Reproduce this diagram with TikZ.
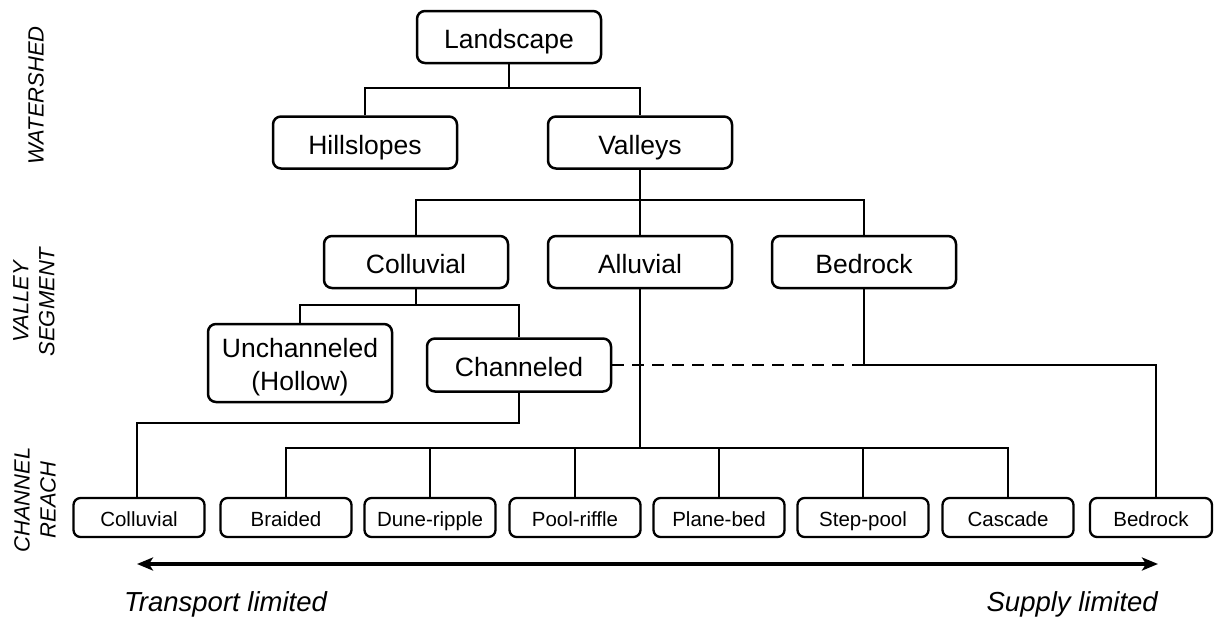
\documentclass[tikz,border=0pt]{standalone}
\usepackage{fontspec}
\setmainfont{Liberation Sans}
\usetikzlibrary{arrows.meta}
\begin{document}
\begin{tikzpicture}[x=1pt,y=-1pt,
  big/.style={draw, rounded corners=8pt, line width=2.5pt, minimum width=184pt, minimum height=52pt,
    font=\fontsize{26.5}{33}\selectfont, align=center, inner sep=0pt},
  one/.style={text height=23pt, text depth=0pt},
  small/.style={draw, rounded corners=7pt, line width=2.3pt, minimum width=131pt, minimum height=39pt,
    font=\fontsize{20.5}{22}\selectfont, inner sep=0pt, text height=17pt, text depth=0pt},
  conn/.style={line width=2.5pt},
  side/.style={rotate=90, font=\fontsize{22}{26}\selectfont\itshape, align=center, inner sep=0pt},
  foot/.style={font=\fontsize{27.5}{30}\selectfont\itshape, inner sep=0pt},
]
\useasboundingbox (0,0) rectangle (1216,621);

% top level
\node[big, one] (land) at (509,37) {Landscape};
\node[big, one] (hill) at (365,142.5) {Hillslopes};
\node[big, one] (vall) at (640,142.5) {Valleys};
% valley segment
\node[big, one] (vcol) at (416,262) {Colluvial};
\node[big, one] (vall2) at (640,262) {Alluvial};
\node[big, one] (vbed) at (864,262) {Bedrock};
\node[big, minimum height=78pt] (unch) at (300,363)
  {\raisebox{-4pt}[\height][\depth]{\begin{tabular}{@{}c@{}}Unchanneled\\(Hollow)\end{tabular}}};
\node[big, one, minimum height=53pt] (chan) at (519,365) {Channeled};
% channel reach
\node[small] (rcol) at (139,517.5) {Colluvial};
\node[small] (brai) at (286,517.5) {Braided};
\node[small] (dune) at (430,517.5) {Dune-ripple};
\node[small] (pool) at (575,517.5) {Pool-riffle};
\node[small] (plan) at (719,517.5) {Plane-bed};
\node[small] (step) at (863,517.5) {Step-pool};
\node[small] (casc) at (1008,517.5) {Cascade};
\node[small, minimum width=122pt] (rbed) at (1151,517.5) {Bedrock};

% connectors
\draw[conn] (land.south) -- (509,88) coordinate (j1);
\draw[conn] (hill.north) |- (j1) -| (vall.north);
\draw[conn] (vall.south) -- (640,200) coordinate (j2);
\draw[conn] (vcol.north) |- (j2) -| (vbed.north);
\draw[conn] (vall2.north) -- (j2);
\draw[conn] (vcol.south) -- (416,305) coordinate (j3);
\draw[conn] (unch.north) |- (j3) -| (chan.north);
\draw[conn] (chan.south) |- (137,423) coordinate (j4) -- (j4 |- rcol.north);
\draw[conn] (vall2.south) -- (640,448) coordinate (j5);
\draw[conn] (brai.north) |- (j5) -| (casc.north);
\draw[conn] (dune.north) -- (dune.north |- j5);
\draw[conn] (pool.north) -- (pool.north |- j5);
\draw[conn] (plan.north) -- (plan.north |- j5);
\draw[conn] (step.north) -- (step.north |- j5);
\draw[conn] (vbed.south) -- (864,365) coordinate (j6) -| (1156,498) coordinate (j7);
\draw[conn, dashed, dash pattern=on 12pt off 8pt] (chan.east) -- (j6);

% gradient arrow
\coordinate (aL) at (137,564);
\coordinate (aR) at (1158,564);
\draw[line width=3.8pt, {Stealth[length=16pt,width=13pt,inset=4pt]}-{Stealth[length=16pt,width=13pt,inset=4pt]}] (aL) -- (aR);
\node[foot, anchor=west] (tl) at (124,604) {Transport limited};
\node[foot, anchor=east] (sl) at (1158,604) {Supply limited};

% side labels
\node[side] (ws) at (36,95.5) {WATERSHED};
\node[side] (vs) at (34,302) {VALLEY\\SEGMENT};
\node[side] (cr) at (35,500) {CHANNEL\\REACH};
\end{tikzpicture}
\end{document}
